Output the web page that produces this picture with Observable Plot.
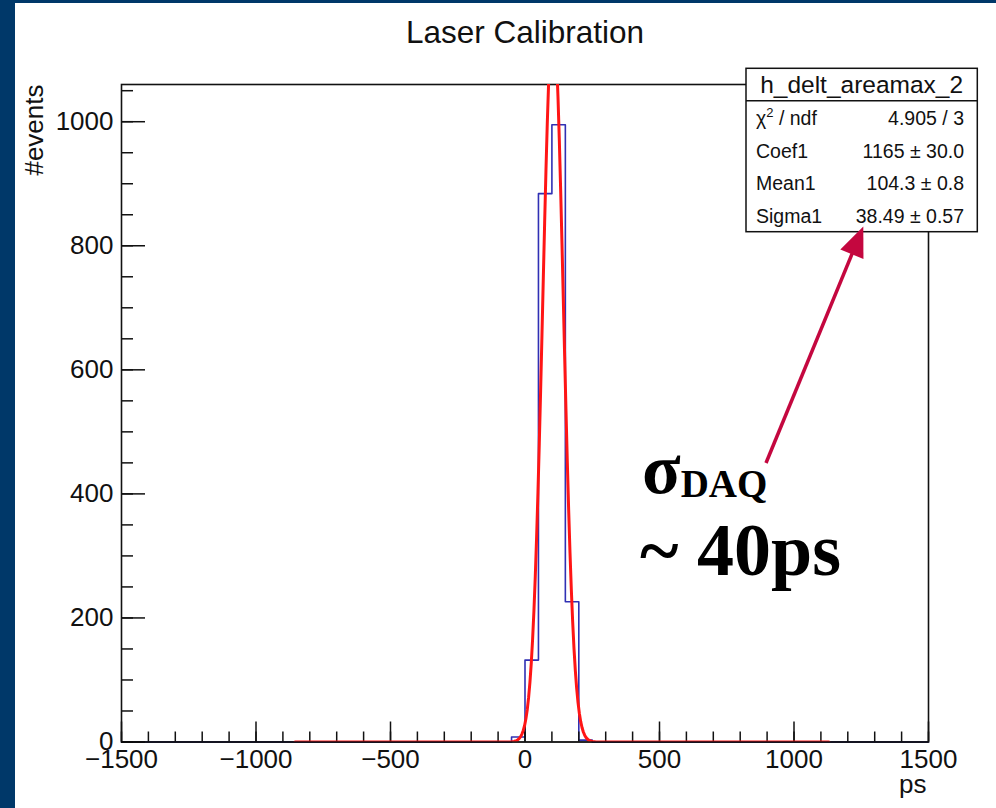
<!DOCTYPE html>
<html>
<head>
<meta charset="utf-8">
<script src="https://cdn.jsdelivr.net/npm/d3@7"></script>
<script src="https://cdn.jsdelivr.net/npm/@observablehq/plot@0.6"></script>
<style>
  body { margin: 0; background: #fff; }
  #wrap { position: relative; width: 996px; height: 808px; overflow: hidden; background: #fff; }
  #wrap svg { position: absolute; left: 0; top: 0; }
  .edge { position: absolute; background: #003869; z-index: 2; }
</style>
</head>
<body>
<div id="wrap">
  <div class="edge" style="left:0;top:0;width:15px;height:808px"></div>
  <div class="edge" style="left:0;top:0;width:996px;height:3px"></div>
</div>
<script>
// Histogram of the laser time difference, 50 ps bins (lower edges and entries)
const binLow = [-50, 0, 50, 100, 150, 200];
const binCounts = [8, 132, 884, 995, 226, 3];
const binWidth = 50;

// Gaussian fit result (gaus: Coef1 * exp(-0.5 * ((x - Mean1) / Sigma1)^2))
const fitCoef = 1165, fitCoefErr = 30.0;
const fitMean = 104.3, fitMeanErr = 0.8;
const fitSigma = 38.49, fitSigmaErr = 0.57;
const fitChi2 = 4.905, fitNdf = 3;
const fitRange = [-855, 1130];

// Axis ticks
const xTicksMajor = [-1500, -1000, -500, 0, 500, 1000, 1500];
const xTicksMinor = d3.range(-1500, 1501, 100);
const yTicksMajor = [0, 200, 400, 600, 800, 1000];
const yTicksMinor = d3.range(0, 1051, 50);

const histName = "h_delt_areamax_2";
const titleText = "Laser Calibration";

// ---- layout ----
const W = 996, H = 808;
const mL = 121, mR = 68, mT = 84, mB = 66.5;
const frameW = W - mL - mR, frameH = H - mT - mB;
const sans = "'Liberation Sans', Arial, Helvetica, sans-serif";
const serif = "'Liberation Serif', 'Times New Roman', serif";
const ink = "#111";

// outline of the histogram as a step line (empty bins sit on zero)
const histPts = [{x: -1500, y: 0}]
  .concat(binLow.map((lo, i) => ({x: lo, y: binCounts[i]})))
  .concat([{x: binLow[binLow.length - 1] + binWidth, y: 0}, {x: 1500, y: 0}]);

// fitted gaussian sampled over the fit range
const nPts = 400;
const fitCurve = d3.range(nPts + 1).map(i => {
  const x = fitRange[0] + (fitRange[1] - fitRange[0]) * i / nPts;
  return {x, y: fitCoef * Math.exp(-0.5 * ((x - fitMean) / fitSigma) ** 2)};
});

const fmtX = d => d < 0 ? "\u2212" + Math.abs(d) : String(d);

const plot = Plot.plot({
  width: W, height: H,
  marginLeft: mL, marginRight: mR, marginTop: mT, marginBottom: mB,
  style: {fontFamily: sans, background: "transparent", overflow: "visible", color: ink},
  x: {domain: [-1500, 1500], axis: null},
  y: {domain: [0, 1060], axis: null},
  marks: [
    Plot.line(histPts, {x: "x", y: "y", curve: "step-after", stroke: "#3030b4", strokeWidth: 1.6}),
    // inward ROOT-style ticks
    Plot.tickX(xTicksMinor, {x: d => d, insetTop: frameH - 10, stroke: ink, strokeWidth: 1.5}),
    Plot.tickX(xTicksMajor, {x: d => d, insetTop: frameH - 20, stroke: ink, strokeWidth: 1.5}),
    Plot.tickY(yTicksMinor, {y: d => d, insetRight: frameW - 12, stroke: ink, strokeWidth: 1.5}),
    Plot.tickY(yTicksMajor, {y: d => d, insetRight: frameW - 24, stroke: ink, strokeWidth: 1.5}),
    Plot.frame({stroke: ink, strokeWidth: 1.6}),
    // fit curve over the frame; its flat tails blend with the x axis line
    Plot.line(fitCurve, {x: "x", y: "y", stroke: "#ff1515", strokeWidth: 3, clip: true}),
    Plot.ruleY([0], {stroke: "#000", strokeOpacity: 0.5, strokeWidth: 1.4}),
    // tick labels
    Plot.text(xTicksMajor, {x: d => d, text: fmtX, frameAnchor: "bottom", lineAnchor: "top", dy: 7.5, fontSize: 26, fill: ink}),
    Plot.text(yTicksMajor, {y: d => d, text: d => String(d), frameAnchor: "left", textAnchor: "end", dx: -8, fontSize: 26, fill: ink}),
    // axis titles and chart title
    Plot.text(["ps"], {frameAnchor: "bottom-right", textAnchor: "end", lineAnchor: "bottom", dy: 51, dx: -2, fontSize: 26, fill: ink}),
    Plot.text(["#events"], {frameAnchor: "top-left", textAnchor: "end", lineAnchor: "bottom", rotate: -90, dx: -79, fontSize: 26, fill: ink}),
    Plot.text([titleText], {frameAnchor: "top", lineAnchor: "bottom", dy: -42, fontSize: 31.5, fill: ink})
  ]
});

document.getElementById("wrap").appendChild(plot);
const svg = d3.select(plot);

// ---- statistics box ----
const box = {x0: 746, y0: 68.3, x1: 977.3, y1: 231.7, head: 100.7};
const statNames = ["\u03c7", "Coef1", "Mean1", "Sigma1"];
const statValues = [
  `${fitChi2.toFixed(3)} / ${fitNdf}`,
  `${fitCoef} \u00b1 ${fitCoefErr.toFixed(1)}`,
  `${fitMean.toFixed(1)} \u00b1 ${fitMeanErr.toFixed(1)}`,
  `${fitSigma.toFixed(2)} \u00b1 ${fitSigmaErr.toFixed(2)}`
];
const sb = svg.append("g").attr("font-family", sans).attr("fill", ink);
sb.append("rect")
  .attr("x", box.x0).attr("y", box.y0)
  .attr("width", box.x1 - box.x0).attr("height", box.y1 - box.y0)
  .attr("fill", "#fff").attr("stroke", ink).attr("stroke-width", 1.5);
sb.append("line")
  .attr("x1", box.x0).attr("x2", box.x1).attr("y1", box.head).attr("y2", box.head)
  .attr("stroke", ink).attr("stroke-width", 1.5);
sb.append("text")
  .attr("x", (box.x0 + box.x1) / 2).attr("y", 92.5)
  .attr("text-anchor", "middle").attr("font-size", 24.5)
  .text(histName);
const rowY0 = 125, rowStep = 32.5;
statNames.forEach((name, i) => {
  const t = sb.append("text").attr("x", 756).attr("y", rowY0 + i * rowStep)
    .attr("text-anchor", "start").attr("font-size", 19.5);
  if (i === 0) {
    t.append("tspan").text(name);
    t.append("tspan").attr("font-size", 13).attr("dy", -8).text("2");
    t.append("tspan").attr("dy", 8).text(" / ndf");
  } else {
    t.text(name);
  }
  sb.append("text").attr("x", 964).attr("y", rowY0 + i * rowStep)
    .attr("text-anchor", "end").attr("font-size", 19.5).text(statValues[i]);
});

// ---- annotation: arrow pointing at Sigma1 ----
const arrowColor = "#c4073f";
const tail = [766, 463], tip = [863.3, 226.5];
const len = Math.hypot(tip[0] - tail[0], tip[1] - tail[1]);
const ux = (tip[0] - tail[0]) / len, uy = (tip[1] - tail[1]) / len;
const headLen = 30, headHalf = 12.5;
const base = [tip[0] - ux * headLen, tip[1] - uy * headLen];
const ann = svg.append("g").attr("text-anchor", "start");
ann.append("line")
  .attr("x1", tail[0]).attr("y1", tail[1])
  .attr("x2", base[0] + ux * 4).attr("y2", base[1] + uy * 4)
  .attr("stroke", arrowColor).attr("stroke-width", 3.5);
ann.append("polygon")
  .attr("points", [
    tip,
    [base[0] - uy * headHalf, base[1] + ux * headHalf],
    [base[0] + uy * headHalf, base[1] - ux * headHalf]
  ].map(p => p.join(",")).join(" "))
  .attr("fill", arrowColor);

const sig = ann.append("text").attr("x", 642).attr("y", 493)
  .attr("font-family", serif).attr("font-weight", "bold").attr("fill", "#000");
sig.append("tspan").attr("font-size", 71).text("\u03c3");
sig.append("tspan").attr("font-size", 39).attr("dy", 4).text("DAQ");
ann.append("text").attr("x", 640).attr("y", 575)
  .attr("font-family", serif).attr("font-weight", "bold").attr("font-size", 74).attr("fill", "#000")
  .text("~ 40ps");
</script>
</body>
</html>
